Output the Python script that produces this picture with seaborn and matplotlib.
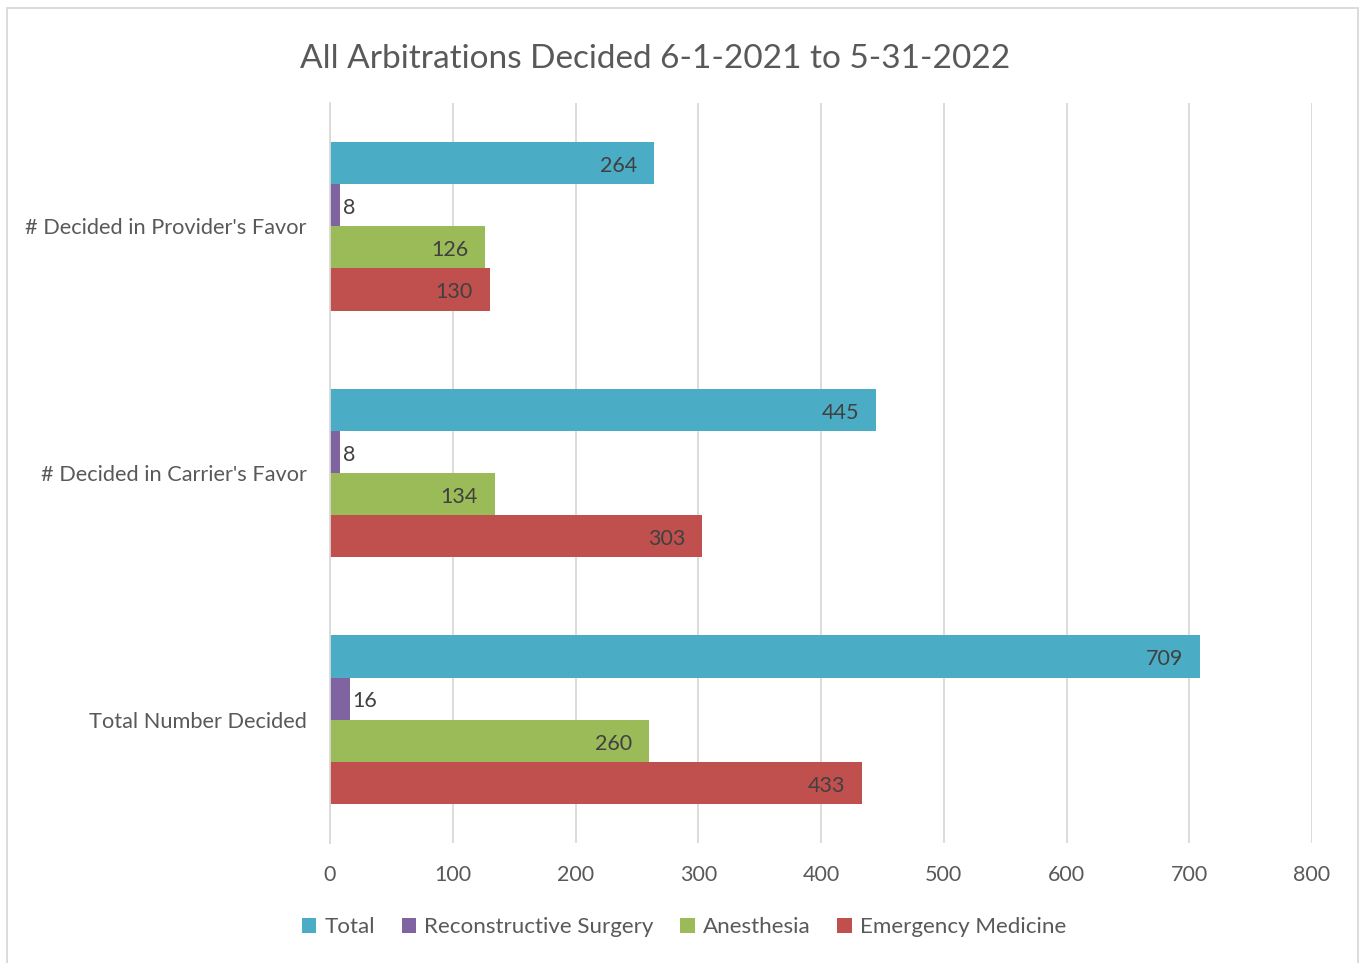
import pandas as pd
import matplotlib
matplotlib.use("Agg")
import matplotlib.pyplot as plt
from matplotlib.patches import Rectangle
import seaborn as sns

# data
categories = ["# Decided in Provider's Favor", "# Decided in Carrier's Favor", "Total Number Decided"]
series = ["Total", "Reconstructive Surgery", "Anesthesia", "Emergency Medicine"]
total = [264, 445, 709]
reconstructive = [8, 8, 16]
anesthesia = [126, 134, 260]
emergency = [130, 303, 433]
colors = ["#4BACC6", "#8064A2", "#9BBB59", "#C0504D"]
x_ticks = [0, 100, 200, 300, 400, 500, 600, 700, 800]


def main():
    rows = []
    for name, vals in zip(series, [total, reconstructive, anesthesia, emergency]):
        for cat, v in zip(categories, vals):
            rows.append({"category": cat, "series": name, "value": v})
    df = pd.DataFrame(rows)

    sns.set_theme(style="white")
    plt.rcParams["font.family"] = ["Lato", "DejaVu Sans"]
    txt = "#595959"

    fig = plt.figure(figsize=(13.65, 9.63), dpi=100)
    ax = fig.add_axes([0.2418, 0.1246, 0.9612 - 0.2418, 0.893 - 0.1246])

    sns.barplot(data=df, y="category", x="value", hue="series", order=categories,
                hue_order=series, palette=colors, orient="h", width=0.683,
                saturation=1, linewidth=0, ax=ax, legend=True)

    # labels: inside end, outside for the tiny bars
    for cont in ax.containers:
        for p in cont.patches:
            w = p.get_width()
            yc = p.get_y() + p.get_height() / 2
            if w > 40:
                ax.annotate(f"{w:.0f}", (w, yc), xytext=(-12, -2), textcoords="offset points",
                            ha="right", va="center", fontsize=15.5, color="#404040")
            else:
                ax.annotate(f"{w:.0f}", (w, yc), xytext=(2, -2), textcoords="offset points",
                            ha="left", va="center", fontsize=15.5, color="#404040")

    ax.set_xlim(0, 800)
    ax.set_ylim(2.5, -0.5)
    ax.set_xticks(x_ticks)
    ax.xaxis.grid(True, color="#D9D9D9", linewidth=1.3)
    ax.set_axisbelow(True)
    for s in ["top", "right", "bottom"]:
        ax.spines[s].set_visible(False)
    ax.spines["left"].set_color("#D9D9D9")
    ax.spines["left"].set_linewidth(1.3)
    ax.set_xlabel("")
    ax.set_ylabel("")
    ax.tick_params(axis="y", length=0, pad=17, labelsize=15.7, labelcolor=txt)
    ax.tick_params(axis="x", length=0, pad=16, labelsize=15.5, labelcolor=txt)

    handles, labels = ax.get_legend_handles_labels()
    ax.get_legend().remove()
    fig.legend(handles, labels, loc="center", bbox_to_anchor=(0.501, 0.037), ncol=4,
               frameon=False, fontsize=16.1, labelcolor=txt, handlelength=0.65,
               handleheight=0.65, handletextpad=0.35, columnspacing=1.2)

    fig.text(0.48, 0.939, "All Arbitrations Decided 6-1-2021 to 5-31-2022",
             ha="center", va="center", fontsize=24, color=txt)

    # chart area border
    fig.patches.append(Rectangle((0.005, -0.01), 0.99, 1.002, transform=fig.transFigure,
                                 fill=False, edgecolor="#D9D9D9", linewidth=1.3))

    plt.savefig("out.png", dpi=100)


if __name__ == "__main__":
    main()
